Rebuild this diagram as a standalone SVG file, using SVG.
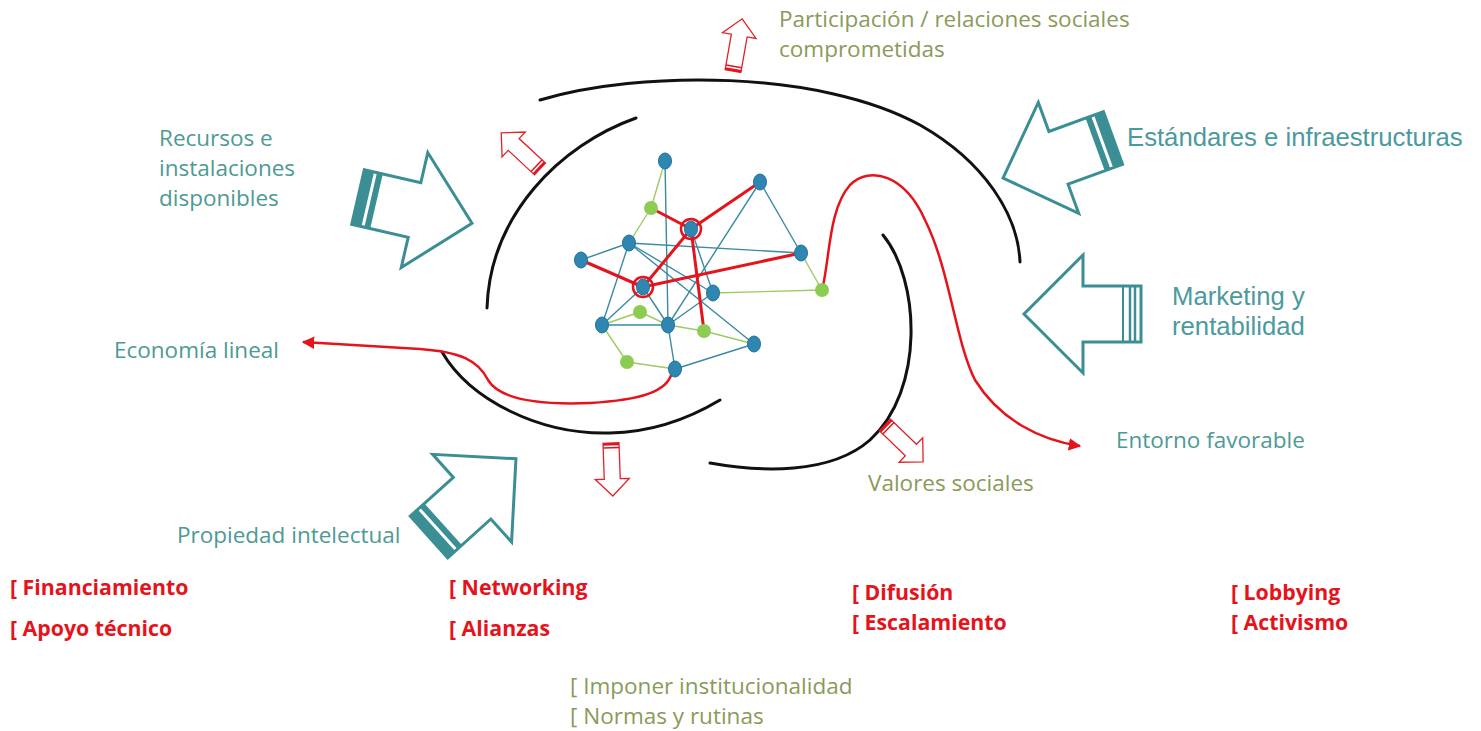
<svg xmlns="http://www.w3.org/2000/svg" width="1481" height="731" viewBox="0 0 1481 731">
<style>
.t{font-family:"Open Sans","Noto Sans",sans-serif;font-size:22.5px}
.teal{fill:#4d9a94}
.olive{fill:#8a9a5a}
.red{fill:#e5141c;font-weight:700;font-size:21.3px}
.h{font-family:"Liberation Sans",Arial,sans-serif;font-size:25.7px;fill:#4a9a9e}
.big{fill:#fff;stroke:#3b8f94;stroke-width:3;stroke-linejoin:miter}
.bar{fill:#3b8f94}
.sm{fill:#fff;stroke:#e2222a;stroke-width:1.3}
.smbar{fill:#e2141c}
.arc{fill:none;stroke:#111;stroke-width:3;stroke-linecap:round}
.rc{fill:none;stroke:#e5141c;stroke-width:2.5}
.eb{stroke:#3a8aa6;stroke-width:1.4}
.eg{stroke:#9ccb62;stroke-width:1.4}
.er{stroke:#e5141c;stroke-width:3}
.nb{fill:#2f87b1;stroke:#24739a;stroke-width:1}
.ng{fill:#8dcc52}
.ring{fill:none;stroke:#e5141c;stroke-width:2.5}
</style>
<defs>
<marker id="ah" viewBox="0 0 10 10" refX="9" refY="5" markerWidth="5" markerHeight="5" orient="auto" markerUnits="strokeWidth">
<path d="M0,0 L10,5 L0,10 z" fill="#e5141c"/>
</marker>
<g id="bigArrow">
<polygon class="big" points="0,-28 58,-28 58,-59 117,0 58,59 58,28 0,28"/>
</g>
<g id="bigTail">
<rect class="bar" x="0" y="-28" width="10" height="56"/>
<rect class="bar" x="13" y="-28" width="6" height="56"/>
</g>
<g id="smArrow">
<polygon class="sm" points="0,-8 36,-8 36,-17 53,0 36,17 36,8 0,8"/>
<rect class="smbar" x="0" y="-8" width="2.5" height="16"/>
<rect class="smbar" x="4" y="-8" width="1.5" height="16"/>
</g>
</defs>

<g id="arcs">
<path class="arc" d="M540,100 C640,70 820,70 920,125 C985,162 1018,215 1020,262"/>
<path class="arc" d="M636,118 C560,145 490,215 487,308"/>
<path class="arc" d="M442,352 C470,400 540,435 610,433 C660,432 700,412 720,400"/>
<path class="arc" d="M883,235 C920,280 925,390 870,440 C830,475 760,472 710,463"/>
</g>

<g id="connectors">
<g id="edges-blue">
<line class="eb" x1="665" y1="161" x2="668" y2="325"/>
<line class="eb" x1="629" y1="243" x2="581" y2="260"/>
<line class="eb" x1="629" y1="243" x2="801" y2="253"/>
<line class="eb" x1="629" y1="243" x2="602" y2="325"/>
<line class="eb" x1="629" y1="243" x2="713" y2="293"/>
<line class="eb" x1="629" y1="243" x2="754" y2="344"/>
<line class="eb" x1="760" y1="182" x2="801" y2="253"/>
<line class="eb" x1="760" y1="182" x2="668" y2="325"/>
<line class="eb" x1="691" y1="229" x2="713" y2="293"/>
<line class="eb" x1="713" y1="293" x2="668" y2="325"/>
<line class="eb" x1="602" y1="325" x2="668" y2="325"/>
<line class="eb" x1="668" y1="325" x2="675" y2="369"/>
<line class="eb" x1="675" y1="369" x2="754" y2="344"/>
<line class="eb" x1="602" y1="325" x2="643" y2="287"/>
<line class="eb" x1="643" y1="287" x2="668" y2="325"/>
</g>
<g id="edges-green">
<line class="eg" x1="665" y1="161" x2="651" y2="208"/>
<line class="eg" x1="651" y1="208" x2="629" y2="243"/>
<line class="eg" x1="801" y1="253" x2="822" y2="290"/>
<line class="eg" x1="713" y1="293" x2="822" y2="290"/>
<line class="eg" x1="602" y1="325" x2="640" y2="312"/>
<line class="eg" x1="640" y1="312" x2="668" y2="325"/>
<line class="eg" x1="668" y1="325" x2="704" y2="331"/>
<line class="eg" x1="704" y1="331" x2="754" y2="344"/>
<line class="eg" x1="602" y1="325" x2="627" y2="362"/>
<line class="eg" x1="627" y1="362" x2="675" y2="369"/>
</g>
<g id="edges-red">
<line class="er" x1="651" y1="208" x2="691" y2="229"/>
<line class="er" x1="691" y1="229" x2="760" y2="182"/>
<line class="er" x1="691" y1="229" x2="643" y2="287"/>
<line class="er" x1="691" y1="229" x2="704" y2="331"/>
<line class="er" x1="581" y1="260" x2="643" y2="287"/>
<line class="er" x1="643" y1="287" x2="801" y2="253"/>
</g>
<path class="rc" marker-end="url(#ah)" d="M672,372 C668,392 640,400 590,403 C540,405 500,400 488,380 C478,360 460,352 420,349 L303,342"/>
<path class="rc" marker-end="url(#ah)" d="M822,290 C830,260 828,210 850,185 C870,165 905,175 925,220 C950,270 955,340 975,380 C1000,420 1040,440 1080,446"/>
</g>

<g id="network-nodes">
<ellipse class="nb" cx="665" cy="161" rx="6.5" ry="8"/>
<ellipse class="nb" cx="760" cy="182" rx="6.5" ry="8"/>
<ellipse class="nb" cx="691" cy="229" rx="6.5" ry="8"/>
<circle class="ring" cx="691" cy="229" r="10"/>
<ellipse class="nb" cx="629" cy="243" rx="6.5" ry="8"/>
<ellipse class="nb" cx="581" cy="260" rx="6.5" ry="8"/>
<ellipse class="nb" cx="801" cy="253" rx="6.5" ry="8"/>
<ellipse class="nb" cx="643" cy="287" rx="6.5" ry="8"/>
<circle class="ring" cx="643" cy="287" r="10"/>
<ellipse class="nb" cx="713" cy="293" rx="6.5" ry="8"/>
<ellipse class="nb" cx="602" cy="325" rx="6.5" ry="8"/>
<ellipse class="nb" cx="668" cy="325" rx="6.5" ry="8"/>
<ellipse class="nb" cx="754" cy="344" rx="6.5" ry="8"/>
<ellipse class="nb" cx="675" cy="369" rx="6.5" ry="8"/>
<circle class="ng" cx="651" cy="208" r="7"/>
<circle class="ng" cx="822" cy="290" r="7"/>
<circle class="ng" cx="640" cy="312" r="7"/>
<circle class="ng" cx="704" cy="331" r="7"/>
<circle class="ng" cx="627" cy="362" r="7"/>
</g>

<g id="arrow-recursos" transform="translate(358,197) rotate(13)">
<use href="#bigArrow"/><use href="#bigTail"/>
</g>
<g id="arrow-estandares" transform="translate(1113,138) rotate(160)">
<use href="#bigArrow"/><use href="#bigTail"/>
</g>
<g id="arrow-marketing" transform="translate(1141,314) rotate(180)">
<use href="#bigArrow"/>
<line x1="6" y1="-28" x2="6" y2="28" stroke="#3b8f94" stroke-width="2.5"/>
<line x1="11" y1="-28" x2="11" y2="28" stroke="#3b8f94" stroke-width="2.5"/>
<line x1="18" y1="-28" x2="18" y2="28" stroke="#3b8f94" stroke-width="2"/>
</g>
<g id="arrow-propiedad" transform="translate(429,537) rotate(-42)">
<use href="#bigArrow"/><use href="#bigTail"/>
</g>

<g id="arrow-top" transform="translate(733,71) rotate(-80)"><use href="#smArrow"/></g>
<g id="arrow-left" transform="translate(540,169) rotate(223)"><use href="#smArrow"/></g>
<g id="arrow-bottom" transform="translate(611,443) rotate(88)"><use href="#smArrow"/></g>
<g id="arrow-right" transform="translate(885,425) rotate(44)"><use href="#smArrow"/></g>

<g id="labels">
<text class="t olive" x="779" y="27">Participación / relaciones sociales</text>
<text class="t olive" x="779" y="57">comprometidas</text>
<text class="t teal" x="159" y="146">Recursos e</text>
<text class="t teal" x="159" y="176">instalaciones</text>
<text class="t teal" x="159" y="206">disponibles</text>
<text class="h" x="1127" y="146">Estándares e infraestructuras</text>
<text class="h" x="1172" y="305">Marketing y</text>
<text class="h" x="1172" y="335">rentabilidad</text>
<text class="t teal" x="114" y="358">Economía lineal</text>
<text class="t teal" x="1116" y="448">Entorno favorable</text>
<text class="t olive" x="868" y="491">Valores sociales</text>
<text class="t teal" x="177" y="543">Propiedad intelectual</text>
<text class="t red" x="10" y="595">[ Financiamiento</text>
<text class="t red" x="10" y="636">[ Apoyo técnico</text>
<text class="t red" x="449" y="595">[ Networking</text>
<text class="t red" x="449" y="636">[ Alianzas</text>
<text class="t red" x="852" y="600">[ Difusión</text>
<text class="t red" x="852" y="630">[ Escalamiento</text>
<text class="t red" x="1231" y="600">[ Lobbying</text>
<text class="t red" x="1231" y="630">[ Activismo</text>
<text class="t olive" x="570" y="694">[ Imponer institucionalidad</text>
<text class="t olive" x="570" y="724">[ Normas y rutinas</text>
</g>
</svg>
